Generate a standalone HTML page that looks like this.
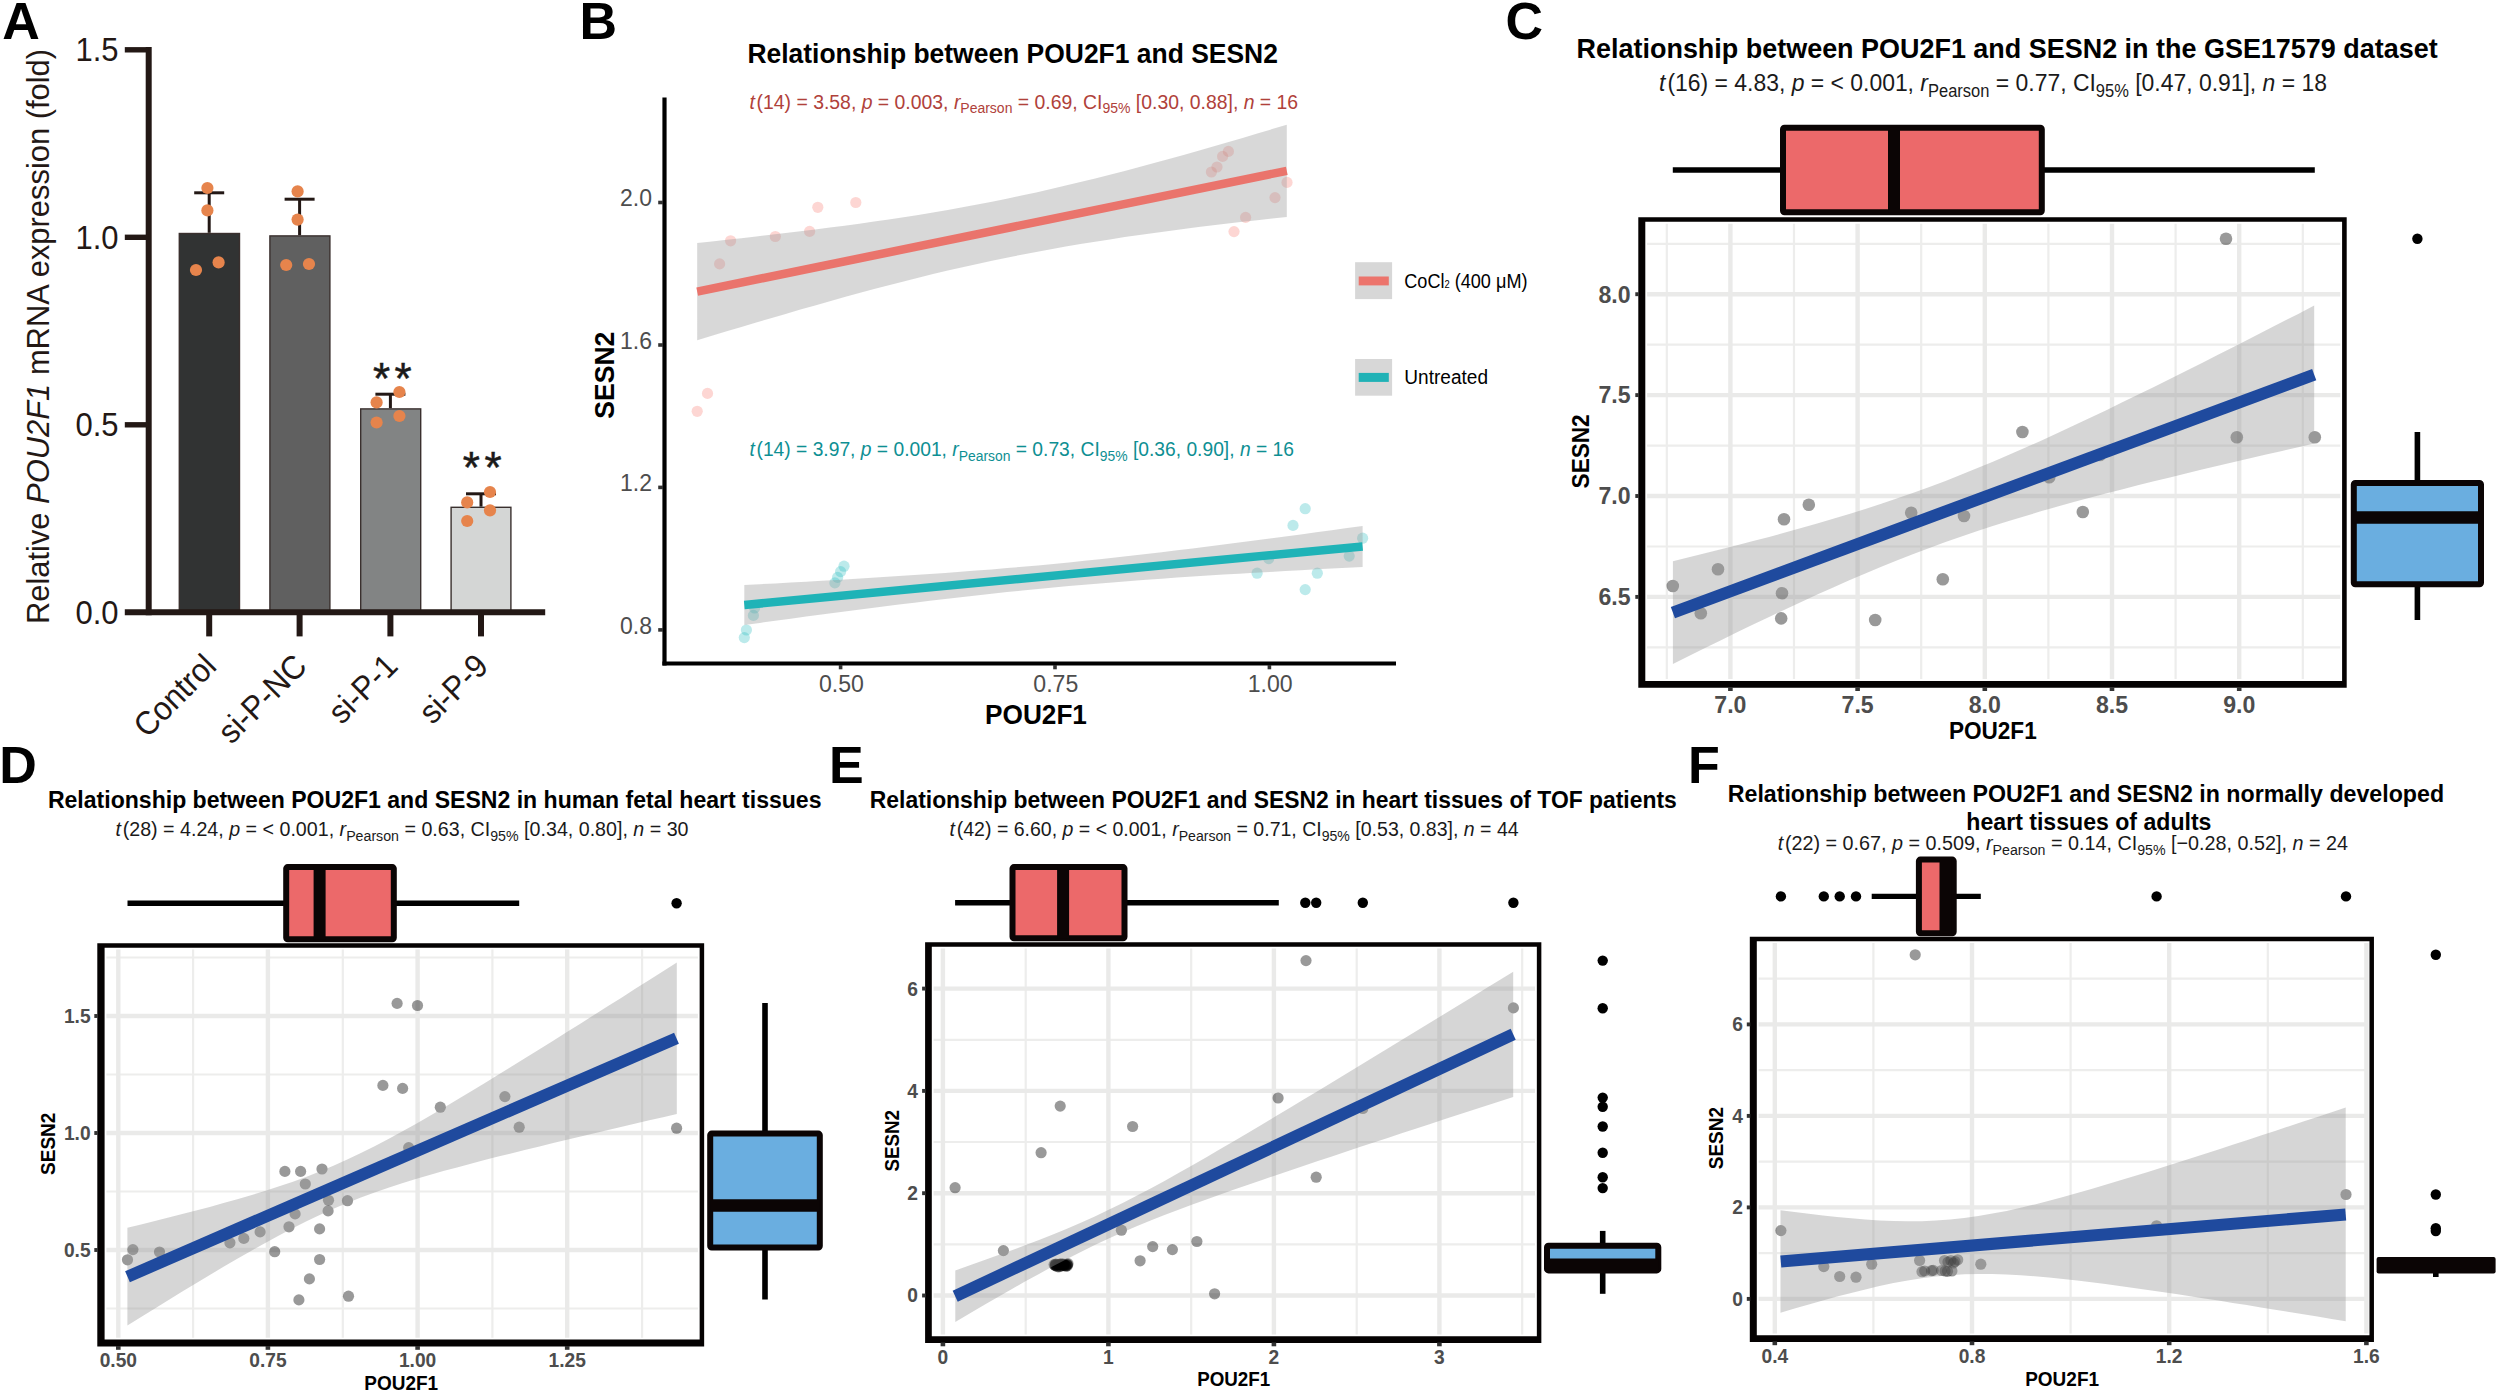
<!DOCTYPE html>
<html lang="en"><head><meta charset="utf-8"><title>Figure</title>
<style>
html,body{margin:0;padding:0;background:#fff;}
body{width:2500px;height:1395px;overflow:hidden;}
svg{display:block;font-family:"Liberation Sans", Arial, Helvetica, sans-serif;}
</style></head><body>
<svg width="2500" height="1395" viewBox="0 0 2500 1395">
<rect width="2500" height="1395" fill="#fff"/>
<text transform="translate(2.2 39.1) scale(1 1.0)" font-size="52" text-anchor="start" font-weight="bold" fill="#000">A</text>
<text transform="translate(579.5 39.1) scale(1 1.0)" font-size="52" text-anchor="start" font-weight="bold" fill="#000">B</text>
<text transform="translate(1505.5 39.3) scale(1 1.0)" font-size="52" text-anchor="start" font-weight="bold" fill="#000">C</text>
<text transform="translate(-0.7 783.1) scale(1 1.0)" font-size="52" text-anchor="start" font-weight="bold" fill="#000">D</text>
<text transform="translate(829.0 783.1) scale(1 1.0)" font-size="52" text-anchor="start" font-weight="bold" fill="#000">E</text>
<text transform="translate(1688.0 782.8) scale(1 1.0)" font-size="52" text-anchor="start" font-weight="bold" fill="#000">F</text>
<rect x="179.3" y="233.5" width="60.2" height="378.8" fill="#313333" stroke="#3a302e" stroke-width="1.4"/>
<rect x="269.9" y="235.9" width="60.0" height="376.4" fill="#606060" stroke="#3a302e" stroke-width="1.4"/>
<rect x="360.7" y="408.9" width="60.0" height="203.4" fill="#828484" stroke="#3a302e" stroke-width="1.4"/>
<rect x="451.1" y="507.3" width="59.8" height="105.0" fill="#D4D6D5" stroke="#3a302e" stroke-width="1.4"/>
<line x1="209.2" y1="192.8" x2="209.2" y2="232.8" stroke="#231815" stroke-width="3"/>
<line x1="194.2" y1="192.8" x2="224.2" y2="192.8" stroke="#231815" stroke-width="3"/>
<line x1="299.6" y1="199.2" x2="299.6" y2="235.2" stroke="#231815" stroke-width="3"/>
<line x1="284.6" y1="199.2" x2="314.6" y2="199.2" stroke="#231815" stroke-width="3"/>
<line x1="390.4" y1="394.2" x2="390.4" y2="408.2" stroke="#231815" stroke-width="3"/>
<line x1="375.4" y1="394.2" x2="405.4" y2="394.2" stroke="#231815" stroke-width="3"/>
<line x1="481.0" y1="493.8" x2="481.0" y2="506.6" stroke="#231815" stroke-width="3"/>
<line x1="466.0" y1="493.8" x2="496.0" y2="493.8" stroke="#231815" stroke-width="3"/>
<line x1="148.7" y1="47.1" x2="148.7" y2="615.2" stroke="#231815" stroke-width="6"/>
<line x1="124.8" y1="612.3" x2="545.2" y2="612.3" stroke="#231815" stroke-width="6"/>
<line x1="124.8" y1="424.8" x2="148.7" y2="424.8" stroke="#231815" stroke-width="5.4"/>
<line x1="124.8" y1="237.3" x2="148.7" y2="237.3" stroke="#231815" stroke-width="5.4"/>
<line x1="124.8" y1="49.8" x2="148.7" y2="49.8" stroke="#231815" stroke-width="5.4"/>
<line x1="209.2" y1="612.0" x2="209.2" y2="636.4" stroke="#231815" stroke-width="6"/>
<line x1="299.6" y1="612.0" x2="299.6" y2="636.4" stroke="#231815" stroke-width="6"/>
<line x1="390.4" y1="612.0" x2="390.4" y2="636.4" stroke="#231815" stroke-width="6"/>
<line x1="481.0" y1="612.0" x2="481.0" y2="636.4" stroke="#231815" stroke-width="6"/>
<g fill="#E6844C" fill-opacity="1.0"><circle cx="207.4" cy="188.0" r="6.1"/><circle cx="207.4" cy="210.4" r="6.1"/><circle cx="196.0" cy="270.0" r="6.1"/><circle cx="218.6" cy="262.4" r="6.1"/><circle cx="297.6" cy="191.4" r="6.1"/><circle cx="297.6" cy="219.6" r="6.1"/><circle cx="286.2" cy="265.0" r="6.1"/><circle cx="309.0" cy="264.0" r="6.1"/><circle cx="399.4" cy="392.0" r="6.1"/><circle cx="376.6" cy="402.4" r="6.1"/><circle cx="399.4" cy="416.0" r="6.1"/><circle cx="376.6" cy="422.5" r="6.1"/><circle cx="490.0" cy="492.0" r="6.1"/><circle cx="467.2" cy="502.4" r="6.1"/><circle cx="490.0" cy="510.4" r="6.1"/><circle cx="467.2" cy="521.0" r="6.1"/></g>
<text transform="translate(394.6 393.7) scale(1 1.0)" font-size="44" text-anchor="middle" font-weight="normal" fill="#1a1a1a" letter-spacing="4.5" stroke="#1a1a1a" stroke-width="0.5">**</text>
<text transform="translate(484.4 482.6) scale(1 1.0)" font-size="44" text-anchor="middle" font-weight="normal" fill="#1a1a1a" letter-spacing="4.5" stroke="#1a1a1a" stroke-width="0.5">**</text>
<text transform="translate(118.6 623.9) scale(1 1.06)" font-size="31" text-anchor="end" font-weight="normal" fill="#231815">0.0</text>
<text transform="translate(118.6 436.4) scale(1 1.06)" font-size="31" text-anchor="end" font-weight="normal" fill="#231815">0.5</text>
<text transform="translate(118.6 248.9) scale(1 1.06)" font-size="31" text-anchor="end" font-weight="normal" fill="#231815">1.0</text>
<text transform="translate(118.6 61.4) scale(1 1.06)" font-size="31" text-anchor="end" font-weight="normal" fill="#231815">1.5</text>
<text transform="translate(48.8 336.5) rotate(-90) scale(1 1.02)" font-size="30.9" text-anchor="middle" font-weight="normal" fill="#231815">Relative <tspan font-style="italic">POU2F1</tspan> mRNA expression (fold)</text>
<text transform="translate(218.2 668.0) rotate(-45) scale(1 1.06)" font-size="31.2" text-anchor="end" font-weight="normal" fill="#231815">Control</text>
<text transform="translate(308.6 668.0) rotate(-45) scale(1 1.06)" font-size="31.2" text-anchor="end" font-weight="normal" fill="#231815">si-P-NC</text>
<text transform="translate(399.4 668.0) rotate(-45) scale(1 1.06)" font-size="31.2" text-anchor="end" font-weight="normal" fill="#231815">si-P-1</text>
<text transform="translate(490.0 668.0) rotate(-45) scale(1 1.06)" font-size="31.2" text-anchor="end" font-weight="normal" fill="#231815">si-P-9</text>
<g fill="#F8766D" fill-opacity="0.3"><circle cx="697.2" cy="411.3" r="5.6"/><circle cx="707.5" cy="393.4" r="5.6"/><circle cx="719.6" cy="263.9" r="5.6"/><circle cx="730.6" cy="240.8" r="5.6"/><circle cx="775.3" cy="236.5" r="5.6"/><circle cx="809.6" cy="231.4" r="5.6"/><circle cx="817.8" cy="207.3" r="5.6"/><circle cx="855.8" cy="202.5" r="5.6"/><circle cx="1228.4" cy="151.4" r="5.6"/><circle cx="1222.6" cy="156.4" r="5.6"/><circle cx="1217.0" cy="167.0" r="5.6"/><circle cx="1211.4" cy="172.0" r="5.6"/><circle cx="1287.0" cy="182.4" r="5.6"/><circle cx="1275.0" cy="197.6" r="5.6"/><circle cx="1245.6" cy="217.4" r="5.6"/><circle cx="1234.0" cy="231.6" r="5.6"/></g>
<g fill="#20B8BE" fill-opacity="0.3"><circle cx="744.3" cy="637.6" r="5.6"/><circle cx="746.4" cy="630.0" r="5.6"/><circle cx="753.4" cy="615.4" r="5.6"/><circle cx="754.6" cy="608.0" r="5.6"/><circle cx="834.9" cy="582.9" r="5.6"/><circle cx="837.6" cy="577.4" r="5.6"/><circle cx="840.6" cy="571.6" r="5.6"/><circle cx="844.0" cy="566.2" r="5.6"/><circle cx="1257.1" cy="573.2" r="5.6"/><circle cx="1268.7" cy="558.6" r="5.6"/><circle cx="1293.0" cy="525.4" r="5.6"/><circle cx="1305.2" cy="508.7" r="5.6"/><circle cx="1305.2" cy="589.6" r="5.6"/><circle cx="1317.3" cy="573.2" r="5.6"/><circle cx="1349.2" cy="556.1" r="5.6"/><circle cx="1362.6" cy="538.2" r="5.6"/></g>
<path d="M697.2,242.9 L711.9,241.4 L726.7,239.8 L741.4,238.2 L756.2,236.5 L770.9,234.8 L785.6,233.1 L800.4,231.3 L815.1,229.5 L829.9,227.6 L844.6,225.7 L859.3,223.7 L874.1,221.6 L888.8,219.4 L903.6,217.2 L918.3,214.9 L933.0,212.4 L947.8,209.9 L962.5,207.3 L977.3,204.5 L992.0,201.7 L1006.7,198.7 L1021.5,195.6 L1036.2,192.4 L1051.0,189.1 L1065.7,185.6 L1080.4,182.1 L1095.2,178.5 L1109.9,174.7 L1124.7,170.9 L1139.4,167.0 L1154.1,163.0 L1168.9,159.0 L1183.6,154.9 L1198.4,150.7 L1213.1,146.5 L1227.8,142.2 L1242.6,137.9 L1257.3,133.5 L1272.1,129.1 L1286.8,124.7 L1286.8,216.9 L1272.1,218.5 L1257.3,220.2 L1242.6,221.8 L1227.8,223.6 L1213.1,225.3 L1198.4,227.1 L1183.6,229.0 L1168.9,230.9 L1154.1,232.9 L1139.4,235.0 L1124.7,237.1 L1109.9,239.4 L1095.2,241.7 L1080.4,244.1 L1065.7,246.6 L1051.0,249.2 L1036.2,251.9 L1021.5,254.7 L1006.7,257.7 L992.0,260.7 L977.3,263.9 L962.5,267.2 L947.8,270.6 L933.0,274.1 L918.3,277.7 L903.6,281.5 L888.8,285.3 L874.1,289.1 L859.3,293.1 L844.6,297.1 L829.9,301.2 L815.1,305.4 L800.4,309.6 L785.6,313.9 L770.9,318.2 L756.2,322.5 L741.4,326.9 L726.7,331.3 L711.9,335.8 L697.2,340.3Z" fill="#999" fill-opacity="0.38"/>
<path d="M744.3,585.0 L759.8,584.2 L775.2,583.4 L790.7,582.5 L806.1,581.7 L821.6,580.8 L837.0,579.9 L852.5,579.0 L868.0,578.1 L883.4,577.1 L898.9,576.1 L914.3,575.1 L929.8,574.1 L945.2,573.0 L960.7,571.8 L976.2,570.6 L991.6,569.4 L1007.1,568.1 L1022.5,566.8 L1038.0,565.4 L1053.4,563.9 L1068.9,562.4 L1084.4,560.8 L1099.8,559.2 L1115.3,557.5 L1130.7,555.8 L1146.2,554.0 L1161.7,552.2 L1177.1,550.3 L1192.6,548.4 L1208.0,546.5 L1223.5,544.5 L1238.9,542.5 L1254.4,540.5 L1269.9,538.5 L1285.3,536.4 L1300.8,534.4 L1316.2,532.3 L1331.7,530.2 L1347.1,528.0 L1362.6,525.9 L1362.6,566.9 L1347.1,567.7 L1331.7,568.5 L1316.2,569.3 L1300.8,570.2 L1285.3,571.0 L1269.9,571.9 L1254.4,572.8 L1238.9,573.7 L1223.5,574.6 L1208.0,575.6 L1192.6,576.6 L1177.1,577.6 L1161.7,578.7 L1146.2,579.8 L1130.7,581.0 L1115.3,582.2 L1099.8,583.4 L1084.4,584.7 L1068.9,586.1 L1053.4,587.5 L1038.0,589.0 L1022.5,590.5 L1007.1,592.1 L991.6,593.7 L976.2,595.4 L960.7,597.2 L945.2,599.0 L929.8,600.8 L914.3,602.7 L898.9,604.6 L883.4,606.5 L868.0,608.5 L852.5,610.5 L837.0,612.5 L821.6,614.5 L806.1,616.6 L790.7,618.7 L775.2,620.8 L759.8,622.9 L744.3,625.0Z" fill="#999" fill-opacity="0.38"/>
<line x1="697.2" y1="291.6" x2="1286.8" y2="170.8" stroke="#EA746C" stroke-width="8.5"/>
<line x1="744.3" y1="605.0" x2="1362.6" y2="546.4" stroke="#1FB3B7" stroke-width="8.5"/>
<line x1="664.5" y1="97.6" x2="664.5" y2="665.6" stroke="#000" stroke-width="4.2"/>
<line x1="662.4" y1="663.5" x2="1396.0" y2="663.5" stroke="#000" stroke-width="4.2"/>
<line x1="658.2" y1="202.5" x2="663.0" y2="202.5" stroke="#333" stroke-width="3.6"/>
<text transform="translate(652.0 206.1) scale(1 1.06)" font-size="23.0" text-anchor="end" font-weight="normal" fill="#4D4D4D">2.0</text>
<line x1="658.2" y1="345.0" x2="663.0" y2="345.0" stroke="#333" stroke-width="3.6"/>
<text transform="translate(652.0 348.6) scale(1 1.06)" font-size="23.0" text-anchor="end" font-weight="normal" fill="#4D4D4D">1.6</text>
<line x1="658.2" y1="487.4" x2="663.0" y2="487.4" stroke="#333" stroke-width="3.6"/>
<text transform="translate(652.0 491.0) scale(1 1.06)" font-size="23.0" text-anchor="end" font-weight="normal" fill="#4D4D4D">1.2</text>
<line x1="658.2" y1="629.9" x2="663.0" y2="629.9" stroke="#333" stroke-width="3.6"/>
<text transform="translate(652.0 633.5) scale(1 1.06)" font-size="23.0" text-anchor="end" font-weight="normal" fill="#4D4D4D">0.8</text>
<line x1="840.6" y1="665.0" x2="840.6" y2="669.3" stroke="#333" stroke-width="3.6"/>
<text transform="translate(841.4 691.6) scale(1 1.06)" font-size="23.1" text-anchor="middle" font-weight="normal" fill="#4D4D4D">0.50</text>
<line x1="1055.0" y1="665.0" x2="1055.0" y2="669.3" stroke="#333" stroke-width="3.6"/>
<text transform="translate(1055.8 691.6) scale(1 1.06)" font-size="23.1" text-anchor="middle" font-weight="normal" fill="#4D4D4D">0.75</text>
<line x1="1269.4" y1="665.0" x2="1269.4" y2="669.3" stroke="#333" stroke-width="3.6"/>
<text transform="translate(1270.2 691.6) scale(1 1.06)" font-size="23.1" text-anchor="middle" font-weight="normal" fill="#4D4D4D">1.00</text>
<text transform="translate(1036.0 723.7) scale(1 1.06)" font-size="26.2" text-anchor="middle" font-weight="bold" fill="#000">POU2F1</text>
<text transform="translate(613.5 375.2) rotate(-90) scale(1 1.06)" font-size="26.5" text-anchor="middle" font-weight="bold" fill="#000">SESN2</text>
<text transform="translate(747.4 63.2) scale(1 1.06)" font-size="26.45" text-anchor="start" font-weight="bold" fill="#000">Relationship between POU2F1 and SESN2</text>
<text transform="translate(749.4 108.8) scale(1 1.06)" font-size="19.4" text-anchor="start" font-weight="normal" fill="#B0413A"><tspan font-style="italic">t</tspan><tspan dx="1.75">(</tspan>14) = 3.58, <tspan font-style="italic">p</tspan> = 0.003, <tspan font-style="italic">r</tspan><tspan font-size="14.0" dy="4.3">Pearson</tspan><tspan dy="-4.3"> = 0.69, CI</tspan><tspan font-size="14.0" dy="4.3">95%</tspan><tspan dy="-4.3"> [0.30, 0.88], </tspan><tspan font-style="italic">n</tspan> = 16</text>
<text transform="translate(749.4 456.3) scale(1 1.06)" font-size="19.25" text-anchor="start" font-weight="normal" fill="#0E8F93"><tspan font-style="italic">t</tspan><tspan dx="1.73">(</tspan>14) = 3.97, <tspan font-style="italic">p</tspan> = 0.001, <tspan font-style="italic">r</tspan><tspan font-size="13.9" dy="4.2">Pearson</tspan><tspan dy="-4.2"> = 0.73, CI</tspan><tspan font-size="13.9" dy="4.2">95%</tspan><tspan dy="-4.2"> [0.36, 0.90], </tspan><tspan font-style="italic">n</tspan> = 16</text>
<rect x="1355.1" y="262.2" width="37.0" height="36.9" fill="#D7D7D7" stroke="none" stroke-width="0"/>
<rect x="1358.7" y="276.5" width="30.1" height="8.9" fill="#EC746C" stroke="none" stroke-width="0"/>
<rect x="1355.1" y="359.0" width="37.0" height="36.7" fill="#D7D7D7" stroke="none" stroke-width="0"/>
<rect x="1358.7" y="372.9" width="30.1" height="9.0" fill="#20B2B6" stroke="none" stroke-width="0"/>
<text transform="translate(1404.3 287.5) scale(1 1.03)" font-size="19.4" text-anchor="start" font-weight="normal" fill="#000" textLength="123.2" lengthAdjust="spacingAndGlyphs">CoCl<tspan font-size="10" dy="0.5">2</tspan><tspan dy="-0.5"> (400 μM)</tspan></text>
<text transform="translate(1404.3 383.9) scale(1 1.03)" font-size="19.4" text-anchor="start" font-weight="normal" fill="#000" textLength="83.7" lengthAdjust="spacingAndGlyphs">Untreated</text>
<line x1="1666.8" y1="223.7" x2="1666.8" y2="679.1" stroke="#EDEDEC" stroke-width="2.2"/>
<line x1="1794.0" y1="223.7" x2="1794.0" y2="679.1" stroke="#EDEDEC" stroke-width="2.2"/>
<line x1="1921.2" y1="223.7" x2="1921.2" y2="679.1" stroke="#EDEDEC" stroke-width="2.2"/>
<line x1="2048.4" y1="223.7" x2="2048.4" y2="679.1" stroke="#EDEDEC" stroke-width="2.2"/>
<line x1="2175.6" y1="223.7" x2="2175.6" y2="679.1" stroke="#EDEDEC" stroke-width="2.2"/>
<line x1="2302.8" y1="223.7" x2="2302.8" y2="679.1" stroke="#EDEDEC" stroke-width="2.2"/>
<line x1="1647.1" y1="647.4" x2="2340.3" y2="647.4" stroke="#EDEDEC" stroke-width="2.2"/>
<line x1="1647.1" y1="546.5" x2="2340.3" y2="546.5" stroke="#EDEDEC" stroke-width="2.2"/>
<line x1="1647.1" y1="445.6" x2="2340.3" y2="445.6" stroke="#EDEDEC" stroke-width="2.2"/>
<line x1="1647.1" y1="344.6" x2="2340.3" y2="344.6" stroke="#EDEDEC" stroke-width="2.2"/>
<line x1="1647.1" y1="243.8" x2="2340.3" y2="243.8" stroke="#EDEDEC" stroke-width="2.2"/>
<line x1="1730.4" y1="223.7" x2="1730.4" y2="679.1" stroke="#EAEAE9" stroke-width="4.4"/>
<line x1="1857.6" y1="223.7" x2="1857.6" y2="679.1" stroke="#EAEAE9" stroke-width="4.4"/>
<line x1="1984.8" y1="223.7" x2="1984.8" y2="679.1" stroke="#EAEAE9" stroke-width="4.4"/>
<line x1="2112.0" y1="223.7" x2="2112.0" y2="679.1" stroke="#EAEAE9" stroke-width="4.4"/>
<line x1="2239.2" y1="223.7" x2="2239.2" y2="679.1" stroke="#EAEAE9" stroke-width="4.4"/>
<line x1="1647.1" y1="596.9" x2="2340.3" y2="596.9" stroke="#EAEAE9" stroke-width="4.4"/>
<line x1="1647.1" y1="496.0" x2="2340.3" y2="496.0" stroke="#EAEAE9" stroke-width="4.4"/>
<line x1="1647.1" y1="395.1" x2="2340.3" y2="395.1" stroke="#EAEAE9" stroke-width="4.4"/>
<line x1="1647.1" y1="294.2" x2="2340.3" y2="294.2" stroke="#EAEAE9" stroke-width="4.4"/>
<clipPath id="c1638"><rect x="1645.3" y="221.85" width="696.80" height="459.05"/></clipPath>
<g clip-path="url(#c1638)">
<g fill="#000" fill-opacity="0.4"><circle cx="1672.8" cy="586.0" r="6.3"/><circle cx="1700.8" cy="613.2" r="6.3"/><circle cx="1718.0" cy="569.2" r="6.3"/><circle cx="1782.0" cy="593.2" r="6.3"/><circle cx="1781.2" cy="618.4" r="6.3"/><circle cx="1784.0" cy="519.2" r="6.3"/><circle cx="1808.8" cy="504.8" r="6.3"/><circle cx="1875.2" cy="620.0" r="6.3"/><circle cx="1911.2" cy="512.8" r="6.3"/><circle cx="1942.8" cy="579.2" r="6.3"/><circle cx="1964.0" cy="516.0" r="6.3"/><circle cx="2022.4" cy="432.0" r="6.3"/><circle cx="2049.2" cy="477.2" r="6.3"/><circle cx="2082.8" cy="512.0" r="6.3"/><circle cx="2236.8" cy="437.2" r="6.3"/><circle cx="2314.8" cy="437.2" r="6.3"/><circle cx="2226.0" cy="238.8" r="6.3"/><circle cx="2100.0" cy="455.0" r="6.3"/></g>
<path d="M1672.9,561.2 L1688.9,557.3 L1705.0,553.3 L1721.0,549.3 L1737.0,545.3 L1753.1,541.1 L1769.1,536.9 L1785.1,532.5 L1801.2,528.1 L1817.2,523.5 L1833.2,518.8 L1849.3,514.0 L1865.3,509.0 L1881.3,503.8 L1897.4,498.3 L1913.4,492.7 L1929.4,486.9 L1945.5,480.9 L1961.5,474.6 L1977.5,468.1 L1993.5,461.4 L2009.6,454.6 L2025.6,447.5 L2041.6,440.4 L2057.7,433.0 L2073.7,425.6 L2089.7,418.0 L2105.8,410.4 L2121.8,402.6 L2137.8,394.8 L2153.9,386.9 L2169.9,378.9 L2185.9,370.9 L2202.0,362.9 L2218.0,354.8 L2234.0,346.7 L2250.1,338.5 L2266.1,330.3 L2282.1,322.1 L2298.2,313.9 L2314.2,305.6 L2314.2,443.6 L2298.2,447.2 L2282.1,450.9 L2266.1,454.6 L2250.1,458.3 L2234.0,462.0 L2218.0,465.8 L2202.0,469.6 L2185.9,473.5 L2169.9,477.4 L2153.9,481.3 L2137.8,485.3 L2121.8,489.4 L2105.8,493.5 L2089.7,497.8 L2073.7,502.1 L2057.7,506.6 L2041.6,511.1 L2025.6,515.9 L2009.6,520.7 L1993.5,525.8 L1977.5,531.0 L1961.5,536.4 L1945.5,542.0 L1929.4,547.9 L1913.4,554.0 L1897.4,560.3 L1881.3,566.7 L1865.3,573.4 L1849.3,580.3 L1833.2,587.4 L1817.2,594.6 L1801.2,601.9 L1785.1,609.4 L1769.1,616.9 L1753.1,624.6 L1737.0,632.3 L1721.0,640.2 L1705.0,648.1 L1688.9,656.0 L1672.9,664.0Z" fill="#999" fill-opacity="0.4"/>
<line x1="1672.9" y1="612.6" x2="2314.2" y2="374.6" stroke="#1F4A9E" stroke-width="12"/>
</g>
<path fill="#050202" fill-rule="evenodd" d="M1638.3,217.35H2346.7V687.7H1638.3Z M1645.3,221.85V680.9H2342.1V221.85Z"/>
<line x1="1730.4" y1="687.2" x2="1730.4" y2="691.0" stroke="#333" stroke-width="4.6"/>
<text transform="translate(1730.4 713.1) scale(1 1.06)" font-size="23.1" text-anchor="middle" font-weight="bold" fill="#4D4D4D">7.0</text>
<line x1="1857.6" y1="687.2" x2="1857.6" y2="691.0" stroke="#333" stroke-width="4.6"/>
<text transform="translate(1857.6 713.1) scale(1 1.06)" font-size="23.1" text-anchor="middle" font-weight="bold" fill="#4D4D4D">7.5</text>
<line x1="1984.8" y1="687.2" x2="1984.8" y2="691.0" stroke="#333" stroke-width="4.6"/>
<text transform="translate(1984.8 713.1) scale(1 1.06)" font-size="23.1" text-anchor="middle" font-weight="bold" fill="#4D4D4D">8.0</text>
<line x1="2112.0" y1="687.2" x2="2112.0" y2="691.0" stroke="#333" stroke-width="4.6"/>
<text transform="translate(2112.0 713.1) scale(1 1.06)" font-size="23.1" text-anchor="middle" font-weight="bold" fill="#4D4D4D">8.5</text>
<line x1="2239.2" y1="687.2" x2="2239.2" y2="691.0" stroke="#333" stroke-width="4.6"/>
<text transform="translate(2239.2 713.1) scale(1 1.06)" font-size="23.1" text-anchor="middle" font-weight="bold" fill="#4D4D4D">9.0</text>
<line x1="1635.3" y1="596.9" x2="1638.8" y2="596.9" stroke="#333" stroke-width="3.9"/>
<text transform="translate(1630.6 605.2) scale(1 1.06)" font-size="23.1" text-anchor="end" font-weight="bold" fill="#4D4D4D">6.5</text>
<line x1="1635.3" y1="496.0" x2="1638.8" y2="496.0" stroke="#333" stroke-width="3.9"/>
<text transform="translate(1630.6 504.3) scale(1 1.06)" font-size="23.1" text-anchor="end" font-weight="bold" fill="#4D4D4D">7.0</text>
<line x1="1635.3" y1="395.1" x2="1638.8" y2="395.1" stroke="#333" stroke-width="3.9"/>
<text transform="translate(1630.6 403.4) scale(1 1.06)" font-size="23.1" text-anchor="end" font-weight="bold" fill="#4D4D4D">7.5</text>
<line x1="1635.3" y1="294.2" x2="1638.8" y2="294.2" stroke="#333" stroke-width="3.9"/>
<text transform="translate(1630.6 302.5) scale(1 1.06)" font-size="23.1" text-anchor="end" font-weight="bold" fill="#4D4D4D">8.0</text>
<text transform="translate(1992.8 739.0) scale(1 1.06)" font-size="22.6" text-anchor="middle" font-weight="bold" fill="#000">POU2F1</text>
<text transform="translate(1588.7 451.4) rotate(-90) scale(1 1.06)" font-size="22.6" text-anchor="middle" font-weight="bold" fill="#000">SESN2</text>
<line x1="1672.8" y1="170.0" x2="2314.8" y2="170.0" stroke="#000" stroke-width="5.4"/>
<rect x="1783.0" y="127.8" width="258.8" height="84.4" fill="#EC696A" stroke="#0b0505" stroke-width="6" rx="1.5"/>
<line x1="1894.0" y1="127.8" x2="1894.0" y2="212.2" stroke="#0b0505" stroke-width="12"/>
<g fill="#000" fill-opacity="1.0"></g>
<line x1="2417.4" y1="432.0" x2="2417.4" y2="620.0" stroke="#000" stroke-width="5.6"/>
<rect x="2353.8" y="483.0" width="127.2" height="101.2" fill="#6AAEE0" stroke="#0b0505" stroke-width="6" rx="1.5"/>
<line x1="2353.8" y1="517.6" x2="2481.0" y2="517.6" stroke="#0b0505" stroke-width="12.5"/>
<g fill="#000" fill-opacity="1.0"><circle cx="2417.4" cy="238.8" r="5.2"/></g>
<text transform="translate(2007.1 58.3) scale(1 1.06)" font-size="26.95" text-anchor="middle" font-weight="bold" fill="#000">Relationship between POU2F1 and SESN2 in the GSE17579 dataset</text>
<text transform="translate(1993.0 91.4) scale(1 1.06)" font-size="22.93" text-anchor="middle" font-weight="normal" fill="#1a1a1a"><tspan font-style="italic">t</tspan><tspan dx="2.06">(</tspan>16) = 4.83, <tspan font-style="italic">p</tspan> = &lt; 0.001, <tspan font-style="italic">r</tspan><tspan font-size="16.5" dy="5.0">Pearson</tspan><tspan dy="-5.0"> = 0.77, CI</tspan><tspan font-size="16.5" dy="5.0">95%</tspan><tspan dy="-5.0"> [0.47, 0.91], </tspan><tspan font-style="italic">n</tspan> = 18</text>
<line x1="193.1" y1="949.6" x2="193.1" y2="1337.7" stroke="#EDEDEC" stroke-width="2.2"/>
<line x1="342.8" y1="949.6" x2="342.8" y2="1337.7" stroke="#EDEDEC" stroke-width="2.2"/>
<line x1="492.4" y1="949.6" x2="492.4" y2="1337.7" stroke="#EDEDEC" stroke-width="2.2"/>
<line x1="642.1" y1="949.6" x2="642.1" y2="1337.7" stroke="#EDEDEC" stroke-width="2.2"/>
<line x1="106.4" y1="1308.5" x2="697.9" y2="1308.5" stroke="#EDEDEC" stroke-width="2.2"/>
<line x1="106.4" y1="1191.5" x2="697.9" y2="1191.5" stroke="#EDEDEC" stroke-width="2.2"/>
<line x1="106.4" y1="1074.5" x2="697.9" y2="1074.5" stroke="#EDEDEC" stroke-width="2.2"/>
<line x1="106.4" y1="957.5" x2="697.9" y2="957.5" stroke="#EDEDEC" stroke-width="2.2"/>
<line x1="118.3" y1="949.6" x2="118.3" y2="1337.7" stroke="#EAEAE9" stroke-width="4.4"/>
<line x1="267.9" y1="949.6" x2="267.9" y2="1337.7" stroke="#EAEAE9" stroke-width="4.4"/>
<line x1="417.6" y1="949.6" x2="417.6" y2="1337.7" stroke="#EAEAE9" stroke-width="4.4"/>
<line x1="567.2" y1="949.6" x2="567.2" y2="1337.7" stroke="#EAEAE9" stroke-width="4.4"/>
<line x1="106.4" y1="1250.0" x2="697.9" y2="1250.0" stroke="#EAEAE9" stroke-width="4.4"/>
<line x1="106.4" y1="1133.0" x2="697.9" y2="1133.0" stroke="#EAEAE9" stroke-width="4.4"/>
<line x1="106.4" y1="1016.0" x2="697.9" y2="1016.0" stroke="#EAEAE9" stroke-width="4.4"/>
<clipPath id="c97"><rect x="104.6" y="947.85" width="595.05" height="391.65"/></clipPath>
<g clip-path="url(#c97)">
<g fill="#000" fill-opacity="0.4"><circle cx="127.5" cy="1259.8" r="5.6"/><circle cx="132.9" cy="1249.6" r="5.6"/><circle cx="159.5" cy="1252.0" r="5.6"/><circle cx="229.9" cy="1242.8" r="5.6"/><circle cx="243.8" cy="1238.4" r="5.6"/><circle cx="260.1" cy="1231.9" r="5.6"/><circle cx="274.7" cy="1251.7" r="5.6"/><circle cx="284.9" cy="1171.4" r="5.6"/><circle cx="300.6" cy="1171.4" r="5.6"/><circle cx="322.0" cy="1169.0" r="5.6"/><circle cx="305.3" cy="1184.0" r="5.6"/><circle cx="295.1" cy="1213.9" r="5.6"/><circle cx="289.0" cy="1226.8" r="5.6"/><circle cx="328.5" cy="1200.3" r="5.6"/><circle cx="347.5" cy="1200.7" r="5.6"/><circle cx="328.1" cy="1210.9" r="5.6"/><circle cx="319.6" cy="1228.9" r="5.6"/><circle cx="319.6" cy="1259.5" r="5.6"/><circle cx="309.4" cy="1278.9" r="5.6"/><circle cx="298.9" cy="1299.9" r="5.6"/><circle cx="348.5" cy="1296.2" r="5.6"/><circle cx="382.9" cy="1085.4" r="5.6"/><circle cx="402.6" cy="1088.4" r="5.6"/><circle cx="397.1" cy="1003.4" r="5.6"/><circle cx="417.5" cy="1005.5" r="5.6"/><circle cx="408.7" cy="1147.6" r="5.6"/><circle cx="440.3" cy="1107.2" r="5.6"/><circle cx="504.9" cy="1096.6" r="5.6"/><circle cx="519.2" cy="1127.2" r="5.6"/><circle cx="676.6" cy="1128.2" r="5.6"/></g>
<path d="M127.4,1227.8 L141.1,1224.5 L154.9,1221.0 L168.6,1217.6 L182.3,1214.1 L196.1,1210.5 L209.8,1206.9 L223.5,1203.1 L237.3,1199.2 L251.0,1195.2 L264.8,1191.0 L278.5,1186.6 L292.2,1181.9 L306.0,1176.9 L319.7,1171.5 L333.4,1165.8 L347.2,1159.6 L360.9,1153.1 L374.6,1146.2 L388.4,1139.0 L402.1,1131.6 L415.8,1123.9 L429.6,1116.0 L443.3,1108.0 L457.0,1099.8 L470.8,1091.6 L484.5,1083.2 L498.2,1074.8 L512.0,1066.3 L525.7,1057.8 L539.5,1049.3 L553.2,1040.7 L566.9,1032.1 L580.7,1023.4 L594.4,1014.7 L608.1,1006.1 L621.9,997.4 L635.6,988.6 L649.3,979.9 L663.1,971.2 L676.8,962.4 L676.8,1114.0 L663.1,1117.2 L649.3,1120.3 L635.6,1123.5 L621.9,1126.7 L608.1,1130.0 L594.4,1133.2 L580.7,1136.5 L566.9,1139.7 L553.2,1143.0 L539.5,1146.4 L525.7,1149.7 L512.0,1153.2 L498.2,1156.6 L484.5,1160.1 L470.8,1163.7 L457.0,1167.4 L443.3,1171.1 L429.6,1175.0 L415.8,1179.1 L402.1,1183.3 L388.4,1187.8 L374.6,1192.5 L360.9,1197.6 L347.2,1203.0 L333.4,1208.8 L319.7,1214.9 L306.0,1221.5 L292.2,1228.4 L278.5,1235.7 L264.8,1243.2 L251.0,1250.9 L237.3,1258.8 L223.5,1266.8 L209.8,1275.0 L196.1,1283.3 L182.3,1291.6 L168.6,1300.0 L154.9,1308.5 L141.1,1317.0 L127.4,1325.6Z" fill="#999" fill-opacity="0.4"/>
<line x1="127.5" y1="1276.7" x2="676.5" y2="1038.2" stroke="#1F4A9E" stroke-width="12"/>
</g>
<path fill="#050202" fill-rule="evenodd" d="M97.3,943.35H704.15V1346.5H97.3Z M104.6,947.85V1339.5H699.65V947.85Z"/>
<line x1="118.3" y1="1346.0" x2="118.3" y2="1349.8" stroke="#333" stroke-width="4.6"/>
<text transform="translate(118.3 1367.2) scale(1 1.06)" font-size="19.2" text-anchor="middle" font-weight="bold" fill="#4D4D4D">0.50</text>
<line x1="267.9" y1="1346.0" x2="267.9" y2="1349.8" stroke="#333" stroke-width="4.6"/>
<text transform="translate(267.9 1367.2) scale(1 1.06)" font-size="19.2" text-anchor="middle" font-weight="bold" fill="#4D4D4D">0.75</text>
<line x1="417.6" y1="1346.0" x2="417.6" y2="1349.8" stroke="#333" stroke-width="4.6"/>
<text transform="translate(417.6 1367.2) scale(1 1.06)" font-size="19.2" text-anchor="middle" font-weight="bold" fill="#4D4D4D">1.00</text>
<line x1="567.2" y1="1346.0" x2="567.2" y2="1349.8" stroke="#333" stroke-width="4.6"/>
<text transform="translate(567.2 1367.2) scale(1 1.06)" font-size="19.2" text-anchor="middle" font-weight="bold" fill="#4D4D4D">1.25</text>
<line x1="94.3" y1="1250.0" x2="97.8" y2="1250.0" stroke="#333" stroke-width="3.9"/>
<text transform="translate(90.6 1256.9) scale(1 1.06)" font-size="19.2" text-anchor="end" font-weight="bold" fill="#4D4D4D">0.5</text>
<line x1="94.3" y1="1133.0" x2="97.8" y2="1133.0" stroke="#333" stroke-width="3.9"/>
<text transform="translate(90.6 1139.9) scale(1 1.06)" font-size="19.2" text-anchor="end" font-weight="bold" fill="#4D4D4D">1.0</text>
<line x1="94.3" y1="1016.0" x2="97.8" y2="1016.0" stroke="#333" stroke-width="3.9"/>
<text transform="translate(90.6 1022.9) scale(1 1.06)" font-size="19.2" text-anchor="end" font-weight="bold" fill="#4D4D4D">1.5</text>
<text transform="translate(401.2 1390.0) scale(1 1.06)" font-size="19.0" text-anchor="middle" font-weight="bold" fill="#000">POU2F1</text>
<text transform="translate(55.1 1143.8) rotate(-90) scale(1 1.06)" font-size="19.0" text-anchor="middle" font-weight="bold" fill="#000">SESN2</text>
<line x1="127.5" y1="903.2" x2="519.2" y2="903.2" stroke="#000" stroke-width="5.4"/>
<rect x="286.2" y="867.1" width="107.6" height="72.2" fill="#EC696A" stroke="#0b0505" stroke-width="6" rx="1.5"/>
<line x1="319.6" y1="867.1" x2="319.6" y2="939.3" stroke="#0b0505" stroke-width="12"/>
<g fill="#000" fill-opacity="1.0"><circle cx="676.6" cy="903.2" r="5.2"/></g>
<line x1="765.0" y1="1003.1" x2="765.0" y2="1299.6" stroke="#000" stroke-width="5.6"/>
<rect x="710.2" y="1133.6" width="109.6" height="114.0" fill="#6AAEE0" stroke="#0b0505" stroke-width="6" rx="1.5"/>
<line x1="710.2" y1="1205.6" x2="819.8" y2="1205.6" stroke="#0b0505" stroke-width="12.5"/>
<g fill="#000" fill-opacity="1.0"></g>
<text transform="translate(434.7 807.5) scale(1 1.06)" font-size="23.05" text-anchor="middle" font-weight="bold" fill="#000">Relationship between POU2F1 and SESN2 in human fetal heart tissues</text>
<text transform="translate(402.0 836.0) scale(1 1.06)" font-size="19.66" text-anchor="middle" font-weight="normal" fill="#1a1a1a"><tspan font-style="italic">t</tspan><tspan dx="1.77">(</tspan>28) = 4.24, <tspan font-style="italic">p</tspan> = &lt; 0.001, <tspan font-style="italic">r</tspan><tspan font-size="14.2" dy="4.3">Pearson</tspan><tspan dy="-4.3"> = 0.63, CI</tspan><tspan font-size="14.2" dy="4.3">95%</tspan><tspan dy="-4.3"> [0.34, 0.80], </tspan><tspan font-style="italic">n</tspan> = 30</text>
<line x1="1025.7" y1="948.6" x2="1025.7" y2="1334.4" stroke="#EDEDEC" stroke-width="2.2"/>
<line x1="1191.2" y1="948.6" x2="1191.2" y2="1334.4" stroke="#EDEDEC" stroke-width="2.2"/>
<line x1="1356.7" y1="948.6" x2="1356.7" y2="1334.4" stroke="#EDEDEC" stroke-width="2.2"/>
<line x1="1522.2" y1="948.6" x2="1522.2" y2="1334.4" stroke="#EDEDEC" stroke-width="2.2"/>
<line x1="933.6" y1="1244.3" x2="1535.0" y2="1244.3" stroke="#EDEDEC" stroke-width="2.2"/>
<line x1="933.6" y1="1142.0" x2="1535.0" y2="1142.0" stroke="#EDEDEC" stroke-width="2.2"/>
<line x1="933.6" y1="1039.8" x2="1535.0" y2="1039.8" stroke="#EDEDEC" stroke-width="2.2"/>
<line x1="942.9" y1="948.6" x2="942.9" y2="1334.4" stroke="#EAEAE9" stroke-width="4.4"/>
<line x1="1108.4" y1="948.6" x2="1108.4" y2="1334.4" stroke="#EAEAE9" stroke-width="4.4"/>
<line x1="1273.9" y1="948.6" x2="1273.9" y2="1334.4" stroke="#EAEAE9" stroke-width="4.4"/>
<line x1="1439.4" y1="948.6" x2="1439.4" y2="1334.4" stroke="#EAEAE9" stroke-width="4.4"/>
<line x1="933.6" y1="1295.5" x2="1535.0" y2="1295.5" stroke="#EAEAE9" stroke-width="4.4"/>
<line x1="933.6" y1="1193.2" x2="1535.0" y2="1193.2" stroke="#EAEAE9" stroke-width="4.4"/>
<line x1="933.6" y1="1090.9" x2="1535.0" y2="1090.9" stroke="#EAEAE9" stroke-width="4.4"/>
<line x1="933.6" y1="988.6" x2="1535.0" y2="988.6" stroke="#EAEAE9" stroke-width="4.4"/>
<clipPath id="c925"><rect x="931.8" y="946.85" width="605.05" height="389.35"/></clipPath>
<g clip-path="url(#c925)">
<g fill="#000" fill-opacity="0.4"><circle cx="955.1" cy="1187.7" r="5.6"/><circle cx="1003.4" cy="1250.6" r="5.6"/><circle cx="1041.1" cy="1152.7" r="5.6"/><circle cx="1060.2" cy="1106.1" r="5.6"/><circle cx="1132.6" cy="1126.5" r="5.6"/><circle cx="1121.4" cy="1230.2" r="5.6"/><circle cx="1140.1" cy="1260.8" r="5.6"/><circle cx="1152.7" cy="1246.6" r="5.6"/><circle cx="1172.4" cy="1249.6" r="5.6"/><circle cx="1196.9" cy="1241.5" r="5.6"/><circle cx="1214.6" cy="1293.8" r="5.6"/><circle cx="1278.1" cy="1098.0" r="5.6"/><circle cx="1316.2" cy="1177.2" r="5.6"/><circle cx="1306.0" cy="960.6" r="5.6"/><circle cx="1513.4" cy="1007.9" r="5.6"/><circle cx="1362.8" cy="1108.5" r="5.6"/><circle cx="1054.1" cy="1264.6" r="5.6"/><circle cx="1055.3" cy="1264.3" r="5.6"/><circle cx="1055.6" cy="1265.2" r="5.6"/><circle cx="1055.1" cy="1265.6" r="5.6"/><circle cx="1055.6" cy="1265.4" r="5.6"/><circle cx="1056.1" cy="1264.2" r="5.6"/><circle cx="1057.3" cy="1266.6" r="5.6"/><circle cx="1057.2" cy="1264.6" r="5.6"/><circle cx="1058.8" cy="1266.9" r="5.6"/><circle cx="1059.2" cy="1265.1" r="5.6"/><circle cx="1060.5" cy="1264.0" r="5.6"/><circle cx="1060.7" cy="1264.7" r="5.6"/><circle cx="1059.8" cy="1264.1" r="5.6"/><circle cx="1060.6" cy="1266.3" r="5.6"/><circle cx="1060.9" cy="1265.5" r="5.6"/><circle cx="1062.3" cy="1264.8" r="5.6"/><circle cx="1062.6" cy="1263.8" r="5.6"/><circle cx="1062.1" cy="1264.3" r="5.6"/><circle cx="1063.9" cy="1264.9" r="5.6"/><circle cx="1063.6" cy="1265.4" r="5.6"/><circle cx="1064.4" cy="1264.5" r="5.6"/><circle cx="1065.6" cy="1265.7" r="5.6"/><circle cx="1065.0" cy="1265.3" r="5.6"/><circle cx="1066.1" cy="1266.2" r="5.6"/><circle cx="1067.0" cy="1264.3" r="5.6"/><circle cx="1068.0" cy="1263.7" r="5.6"/><circle cx="1067.3" cy="1265.8" r="5.6"/><circle cx="1067.3" cy="1264.9" r="5.6"/></g>
<path d="M955.3,1270.4 L969.2,1265.5 L983.2,1260.6 L997.1,1255.6 L1011.1,1250.5 L1025.0,1245.3 L1039.0,1239.9 L1052.9,1234.4 L1066.9,1228.7 L1080.8,1222.7 L1094.8,1216.4 L1108.7,1209.8 L1122.7,1203.0 L1136.6,1195.8 L1150.6,1188.5 L1164.5,1180.9 L1178.5,1173.1 L1192.4,1165.2 L1206.4,1157.2 L1220.3,1149.1 L1234.2,1140.9 L1248.2,1132.7 L1262.1,1124.4 L1276.1,1116.0 L1290.0,1107.7 L1304.0,1099.3 L1317.9,1090.9 L1331.9,1082.4 L1345.8,1074.0 L1359.8,1065.5 L1373.7,1057.0 L1387.7,1048.5 L1401.6,1040.0 L1415.6,1031.5 L1429.5,1023.0 L1443.5,1014.5 L1457.4,1005.9 L1471.4,997.4 L1485.3,988.8 L1499.3,980.3 L1513.2,971.7 L1513.2,1096.9 L1499.3,1101.4 L1485.3,1105.9 L1471.4,1110.5 L1457.4,1115.1 L1443.5,1119.6 L1429.5,1124.2 L1415.6,1128.8 L1401.6,1133.3 L1387.7,1137.9 L1373.7,1142.5 L1359.8,1147.1 L1345.8,1151.8 L1331.9,1156.4 L1317.9,1161.1 L1304.0,1165.7 L1290.0,1170.4 L1276.1,1175.2 L1262.1,1179.9 L1248.2,1184.7 L1234.2,1189.6 L1220.3,1194.5 L1206.4,1199.5 L1192.4,1204.6 L1178.5,1209.8 L1164.5,1215.1 L1150.6,1220.6 L1136.6,1226.3 L1122.7,1232.3 L1108.7,1238.5 L1094.8,1245.1 L1080.8,1251.9 L1066.9,1259.0 L1052.9,1266.3 L1039.0,1273.9 L1025.0,1281.6 L1011.1,1289.5 L997.1,1297.5 L983.2,1305.6 L969.2,1313.8 L955.3,1322.0Z" fill="#999" fill-opacity="0.4"/>
<line x1="955.2" y1="1296.2" x2="1513.2" y2="1034.3" stroke="#1F4A9E" stroke-width="12"/>
</g>
<path fill="#050202" fill-rule="evenodd" d="M925.1,942.35H1541.35V1343.0H925.1Z M931.8,946.85V1336.2H1536.85V946.85Z"/>
<line x1="942.9" y1="1342.5" x2="942.9" y2="1346.3" stroke="#333" stroke-width="4.6"/>
<text transform="translate(942.9 1363.5) scale(1 1.06)" font-size="19.2" text-anchor="middle" font-weight="bold" fill="#4D4D4D">0</text>
<line x1="1108.4" y1="1342.5" x2="1108.4" y2="1346.3" stroke="#333" stroke-width="4.6"/>
<text transform="translate(1108.4 1363.5) scale(1 1.06)" font-size="19.2" text-anchor="middle" font-weight="bold" fill="#4D4D4D">1</text>
<line x1="1273.9" y1="1342.5" x2="1273.9" y2="1346.3" stroke="#333" stroke-width="4.6"/>
<text transform="translate(1273.9 1363.5) scale(1 1.06)" font-size="19.2" text-anchor="middle" font-weight="bold" fill="#4D4D4D">2</text>
<line x1="1439.4" y1="1342.5" x2="1439.4" y2="1346.3" stroke="#333" stroke-width="4.6"/>
<text transform="translate(1439.4 1363.5) scale(1 1.06)" font-size="19.2" text-anchor="middle" font-weight="bold" fill="#4D4D4D">3</text>
<line x1="922.1" y1="1295.5" x2="925.6" y2="1295.5" stroke="#333" stroke-width="3.9"/>
<text transform="translate(918.0 1302.4) scale(1 1.06)" font-size="19.2" text-anchor="end" font-weight="bold" fill="#4D4D4D">0</text>
<line x1="922.1" y1="1193.2" x2="925.6" y2="1193.2" stroke="#333" stroke-width="3.9"/>
<text transform="translate(918.0 1200.1) scale(1 1.06)" font-size="19.2" text-anchor="end" font-weight="bold" fill="#4D4D4D">2</text>
<line x1="922.1" y1="1090.9" x2="925.6" y2="1090.9" stroke="#333" stroke-width="3.9"/>
<text transform="translate(918.0 1097.8) scale(1 1.06)" font-size="19.2" text-anchor="end" font-weight="bold" fill="#4D4D4D">4</text>
<line x1="922.1" y1="988.6" x2="925.6" y2="988.6" stroke="#333" stroke-width="3.9"/>
<text transform="translate(918.0 995.5) scale(1 1.06)" font-size="19.2" text-anchor="end" font-weight="bold" fill="#4D4D4D">6</text>
<text transform="translate(1233.7 1386.3) scale(1 1.06)" font-size="18.8" text-anchor="middle" font-weight="bold" fill="#000">POU2F1</text>
<text transform="translate(898.8 1140.8) rotate(-90) scale(1 1.06)" font-size="18.8" text-anchor="middle" font-weight="bold" fill="#000">SESN2</text>
<line x1="955.1" y1="902.7" x2="1278.8" y2="902.7" stroke="#000" stroke-width="5.4"/>
<rect x="1012.5" y="867.1" width="112.0" height="71.2" fill="#EC696A" stroke="#0b0505" stroke-width="6" rx="1.5"/>
<line x1="1063.1" y1="867.1" x2="1063.1" y2="938.3" stroke="#0b0505" stroke-width="12"/>
<g fill="#000" fill-opacity="1.0"><circle cx="1305.3" cy="902.7" r="5.2"/><circle cx="1316.2" cy="902.7" r="5.2"/><circle cx="1362.8" cy="902.7" r="5.2"/><circle cx="1513.4" cy="902.7" r="5.2"/></g>
<line x1="1602.7" y1="1230.9" x2="1602.7" y2="1293.8" stroke="#000" stroke-width="5.6"/>
<rect x="1547.0" y="1245.8" width="111.3" height="24.6" fill="#6AAEE0" stroke="#0b0505" stroke-width="6" rx="1.5"/>
<line x1="1547.0" y1="1264.4" x2="1658.3" y2="1264.4" stroke="#0b0505" stroke-width="12"/>
<g fill="#000" fill-opacity="1.0"><circle cx="1602.7" cy="960.6" r="5.2"/><circle cx="1602.7" cy="1008.2" r="5.2"/><circle cx="1602.7" cy="1097.6" r="5.2"/><circle cx="1602.7" cy="1106.8" r="5.2"/><circle cx="1602.7" cy="1126.5" r="5.2"/><circle cx="1602.7" cy="1152.7" r="5.2"/><circle cx="1602.7" cy="1177.2" r="5.2"/><circle cx="1602.7" cy="1188.1" r="5.2"/></g>
<text transform="translate(1273.3 807.5) scale(1 1.06)" font-size="22.9" text-anchor="middle" font-weight="bold" fill="#000">Relationship between POU2F1 and SESN2 in heart tissues of TOF patients</text>
<text transform="translate(1234.1 836.0) scale(1 1.06)" font-size="19.53" text-anchor="middle" font-weight="normal" fill="#1a1a1a"><tspan font-style="italic">t</tspan><tspan dx="1.76">(</tspan>42) = 6.60, <tspan font-style="italic">p</tspan> = &lt; 0.001, <tspan font-style="italic">r</tspan><tspan font-size="14.1" dy="4.3">Pearson</tspan><tspan dy="-4.3"> = 0.71, CI</tspan><tspan font-size="14.1" dy="4.3">95%</tspan><tspan dy="-4.3"> [0.53, 0.83], </tspan><tspan font-style="italic">n</tspan> = 44</text>
<line x1="1873.4" y1="943.1" x2="1873.4" y2="1333.4" stroke="#EDEDEC" stroke-width="2.2"/>
<line x1="2070.6" y1="943.1" x2="2070.6" y2="1333.4" stroke="#EDEDEC" stroke-width="2.2"/>
<line x1="2267.8" y1="943.1" x2="2267.8" y2="1333.4" stroke="#EDEDEC" stroke-width="2.2"/>
<line x1="1758.6" y1="1253.2" x2="2367.6" y2="1253.2" stroke="#EDEDEC" stroke-width="2.2"/>
<line x1="1758.6" y1="1161.7" x2="2367.6" y2="1161.7" stroke="#EDEDEC" stroke-width="2.2"/>
<line x1="1758.6" y1="1070.2" x2="2367.6" y2="1070.2" stroke="#EDEDEC" stroke-width="2.2"/>
<line x1="1758.6" y1="978.7" x2="2367.6" y2="978.7" stroke="#EDEDEC" stroke-width="2.2"/>
<line x1="1774.8" y1="943.1" x2="1774.8" y2="1333.4" stroke="#EAEAE9" stroke-width="4.4"/>
<line x1="1972.0" y1="943.1" x2="1972.0" y2="1333.4" stroke="#EAEAE9" stroke-width="4.4"/>
<line x1="2169.2" y1="943.1" x2="2169.2" y2="1333.4" stroke="#EAEAE9" stroke-width="4.4"/>
<line x1="2366.4" y1="943.1" x2="2366.4" y2="1333.4" stroke="#EAEAE9" stroke-width="4.4"/>
<line x1="1758.6" y1="1298.9" x2="2367.6" y2="1298.9" stroke="#EAEAE9" stroke-width="4.4"/>
<line x1="1758.6" y1="1207.4" x2="2367.6" y2="1207.4" stroke="#EAEAE9" stroke-width="4.4"/>
<line x1="1758.6" y1="1115.9" x2="2367.6" y2="1115.9" stroke="#EAEAE9" stroke-width="4.4"/>
<line x1="1758.6" y1="1024.4" x2="2367.6" y2="1024.4" stroke="#EAEAE9" stroke-width="4.4"/>
<clipPath id="c1749"><rect x="1756.8" y="941.35" width="612.65" height="393.85"/></clipPath>
<g clip-path="url(#c1749)">
<g fill="#000" fill-opacity="0.4"><circle cx="1780.9" cy="1230.6" r="5.6"/><circle cx="1823.8" cy="1266.6" r="5.6"/><circle cx="1839.7" cy="1276.5" r="5.6"/><circle cx="1856.0" cy="1277.2" r="5.6"/><circle cx="1871.7" cy="1264.2" r="5.6"/><circle cx="1915.2" cy="954.8" r="5.6"/><circle cx="1919.6" cy="1260.5" r="5.6"/><circle cx="1922.0" cy="1271.7" r="5.6"/><circle cx="1924.7" cy="1271.0" r="5.6"/><circle cx="1931.5" cy="1270.7" r="5.6"/><circle cx="1933.2" cy="1270.4" r="5.6"/><circle cx="1944.5" cy="1260.5" r="5.6"/><circle cx="1945.1" cy="1271.0" r="5.6"/><circle cx="1950.9" cy="1260.5" r="5.6"/><circle cx="1951.9" cy="1271.0" r="5.6"/><circle cx="1955.0" cy="1261.5" r="5.6"/><circle cx="1957.7" cy="1259.8" r="5.6"/><circle cx="1980.8" cy="1264.2" r="5.6"/><circle cx="2156.6" cy="1225.8" r="5.6"/><circle cx="2346.0" cy="1194.5" r="5.6"/><circle cx="1947.5" cy="1271.3" r="5.6"/><circle cx="1953.5" cy="1263.0" r="5.6"/><circle cx="1948.0" cy="1262.0" r="5.6"/><circle cx="1941.5" cy="1270.5" r="5.6"/></g>
<path d="M1780.5,1210.2 L1794.6,1212.1 L1808.8,1213.8 L1822.9,1215.5 L1837.0,1217.0 L1851.2,1218.3 L1865.3,1219.5 L1879.4,1220.4 L1893.5,1221.0 L1907.7,1221.3 L1921.8,1221.2 L1935.9,1220.6 L1950.1,1219.6 L1964.2,1218.0 L1978.3,1216.1 L1992.4,1213.6 L2006.6,1210.9 L2020.7,1207.8 L2034.8,1204.4 L2049.0,1200.8 L2063.1,1197.0 L2077.2,1193.1 L2091.4,1189.0 L2105.5,1184.8 L2119.6,1180.6 L2133.8,1176.3 L2147.9,1171.9 L2162.0,1167.5 L2176.1,1163.0 L2190.3,1158.5 L2204.4,1153.9 L2218.5,1149.4 L2232.7,1144.8 L2246.8,1140.2 L2260.9,1135.5 L2275.0,1130.9 L2289.2,1126.2 L2303.3,1121.6 L2317.4,1116.9 L2331.6,1112.2 L2345.7,1107.5 L2345.7,1321.3 L2331.6,1319.0 L2317.4,1316.6 L2303.3,1314.3 L2289.2,1312.0 L2275.0,1309.7 L2260.9,1307.4 L2246.8,1305.1 L2232.7,1302.9 L2218.5,1300.6 L2204.4,1298.4 L2190.3,1296.2 L2176.1,1294.1 L2162.0,1291.9 L2147.9,1289.9 L2133.8,1287.9 L2119.6,1285.9 L2105.5,1284.0 L2091.4,1282.2 L2077.2,1280.5 L2063.1,1278.9 L2049.0,1277.5 L2034.8,1276.2 L2020.7,1275.2 L2006.6,1274.5 L1992.4,1274.0 L1978.3,1274.0 L1964.2,1274.3 L1950.1,1275.2 L1935.9,1276.5 L1921.8,1278.3 L1907.7,1280.5 L1893.5,1283.1 L1879.4,1286.1 L1865.3,1289.4 L1851.2,1292.9 L1837.0,1296.6 L1822.9,1300.5 L1808.8,1304.5 L1794.6,1308.6 L1780.5,1312.8Z" fill="#999" fill-opacity="0.4"/>
<line x1="1780.8" y1="1261.5" x2="2345.7" y2="1214.4" stroke="#1F4A9E" stroke-width="12"/>
</g>
<path fill="#050202" fill-rule="evenodd" d="M1749.8,936.85H2373.95V1341.9H1749.8Z M1756.8,941.35V1335.2H2369.45V941.35Z"/>
<line x1="1774.8" y1="1341.4" x2="1774.8" y2="1345.2" stroke="#333" stroke-width="4.6"/>
<text transform="translate(1774.8 1363.2) scale(1 1.06)" font-size="19.2" text-anchor="middle" font-weight="bold" fill="#4D4D4D">0.4</text>
<line x1="1972.0" y1="1341.4" x2="1972.0" y2="1345.2" stroke="#333" stroke-width="4.6"/>
<text transform="translate(1972.0 1363.2) scale(1 1.06)" font-size="19.2" text-anchor="middle" font-weight="bold" fill="#4D4D4D">0.8</text>
<line x1="2169.2" y1="1341.4" x2="2169.2" y2="1345.2" stroke="#333" stroke-width="4.6"/>
<text transform="translate(2169.2 1363.2) scale(1 1.06)" font-size="19.2" text-anchor="middle" font-weight="bold" fill="#4D4D4D">1.2</text>
<line x1="2366.4" y1="1341.4" x2="2366.4" y2="1345.2" stroke="#333" stroke-width="4.6"/>
<text transform="translate(2366.4 1363.2) scale(1 1.06)" font-size="19.2" text-anchor="middle" font-weight="bold" fill="#4D4D4D">1.6</text>
<line x1="1746.8" y1="1298.9" x2="1750.3" y2="1298.9" stroke="#333" stroke-width="3.9"/>
<text transform="translate(1743.0 1305.8) scale(1 1.06)" font-size="19.2" text-anchor="end" font-weight="bold" fill="#4D4D4D">0</text>
<line x1="1746.8" y1="1207.4" x2="1750.3" y2="1207.4" stroke="#333" stroke-width="3.9"/>
<text transform="translate(1743.0 1214.3) scale(1 1.06)" font-size="19.2" text-anchor="end" font-weight="bold" fill="#4D4D4D">2</text>
<line x1="1746.8" y1="1115.9" x2="1750.3" y2="1115.9" stroke="#333" stroke-width="3.9"/>
<text transform="translate(1743.0 1122.8) scale(1 1.06)" font-size="19.2" text-anchor="end" font-weight="bold" fill="#4D4D4D">4</text>
<line x1="1746.8" y1="1024.4" x2="1750.3" y2="1024.4" stroke="#333" stroke-width="3.9"/>
<text transform="translate(1743.0 1031.3) scale(1 1.06)" font-size="19.2" text-anchor="end" font-weight="bold" fill="#4D4D4D">6</text>
<text transform="translate(2062.1 1386.1) scale(1 1.06)" font-size="19.0" text-anchor="middle" font-weight="bold" fill="#000">POU2F1</text>
<text transform="translate(1723.2 1138.1) rotate(-90) scale(1 1.06)" font-size="19.0" text-anchor="middle" font-weight="bold" fill="#000">SESN2</text>
<line x1="1871.7" y1="896.4" x2="1980.8" y2="896.4" stroke="#000" stroke-width="5.4"/>
<rect x="1918.9" y="859.6" width="34.8" height="73.6" fill="#EC696A" stroke="#0b0505" stroke-width="6" rx="1.5"/>
<line x1="1945.5" y1="859.6" x2="1945.5" y2="933.2" stroke="#0b0505" stroke-width="12"/>
<g fill="#000" fill-opacity="1.0"><circle cx="1780.9" cy="896.4" r="5.2"/><circle cx="1823.8" cy="896.4" r="5.2"/><circle cx="1839.7" cy="896.4" r="5.2"/><circle cx="1856.0" cy="896.4" r="5.2"/><circle cx="2156.6" cy="896.4" r="5.2"/><circle cx="2346.0" cy="896.4" r="5.2"/></g>
<line x1="2435.8" y1="1262.0" x2="2435.8" y2="1277.0" stroke="#000" stroke-width="5.6"/>
<rect x="2376.6" y="1257.1" width="119.0" height="16.3" fill="#0b0505" stroke="none" stroke-width="0" rx="2"/>
<g fill="#000" fill-opacity="1.0"><circle cx="2435.8" cy="954.8" r="5.2"/><circle cx="2435.8" cy="1194.5" r="5.2"/><circle cx="2435.8" cy="1228.2" r="5.2"/><circle cx="2435.8" cy="1231.0" r="5.2"/></g>
<text transform="translate(2085.9 801.6) scale(1 1.06)" font-size="23.2" text-anchor="middle" font-weight="bold" fill="#000">Relationship between POU2F1 and SESN2 in normally developed</text>
<text transform="translate(2088.9 829.5) scale(1 1.06)" font-size="23.1" text-anchor="middle" font-weight="bold" fill="#000">heart tissues of adults</text>
<text transform="translate(2062.8 850.4) scale(1 1.06)" font-size="19.76" text-anchor="middle" font-weight="normal" fill="#1a1a1a"><tspan font-style="italic">t</tspan><tspan dx="1.78">(</tspan>22) = 0.67, <tspan font-style="italic">p</tspan> = 0.509, <tspan font-style="italic">r</tspan><tspan font-size="14.2" dy="4.3">Pearson</tspan><tspan dy="-4.3"> = 0.14, CI</tspan><tspan font-size="14.2" dy="4.3">95%</tspan><tspan dy="-4.3"> [−0.28, 0.52], </tspan><tspan font-style="italic">n</tspan> = 24</text>
</svg>
</body></html>
